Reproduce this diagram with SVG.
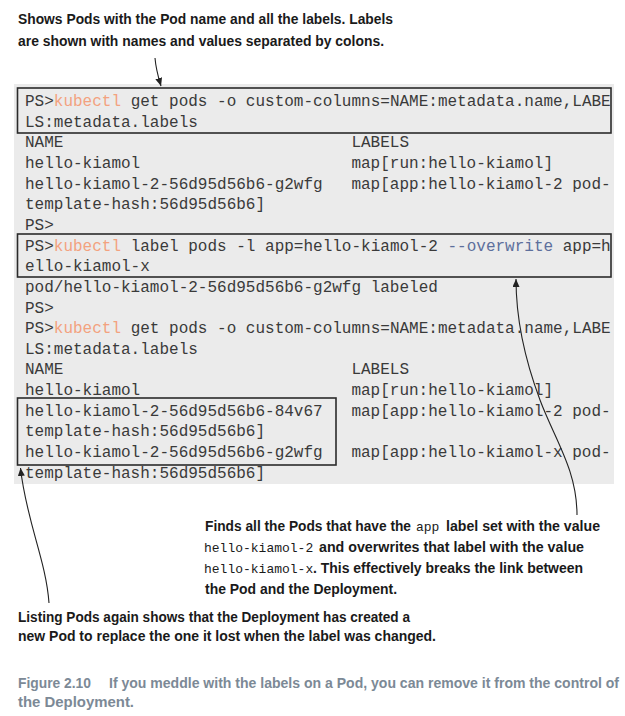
<svg xmlns="http://www.w3.org/2000/svg" width="625" height="716" viewBox="0 0 625 716">
<style>
.bg{fill:#ffffff}
.term{fill:#ebebeb}
.box{fill:none;stroke:#2b2b2b;stroke-width:1.6}
.mono{font-family:"Liberation Mono","DejaVu Sans Mono",monospace;font-size:16px;fill:#3a3a3a}
.kc{fill:#f3a27f}
.ow{fill:#5d6f9c}
.ann{font-family:"Liberation Sans","Arial",sans-serif;font-weight:bold;font-size:14px;fill:#1a1a1a}
.code{font-family:"Liberation Mono","Courier New",monospace;font-size:13px;fill:#1a1a1a}
.cap{font-family:"Liberation Sans","Arial",sans-serif;font-weight:bold;font-size:14px;fill:#7c8996}
.conn{fill:none;stroke:#222;stroke-width:1.1}
</style>
<defs>
<marker id="ah" markerWidth="8" markerHeight="7" refX="8" refY="3.5" orient="auto" markerUnits="userSpaceOnUse">
<path d="M0,0 L8,3.5 L0,7 z" fill="#222"/>
</marker>
</defs>
<rect class="bg" x="0" y="0" width="625" height="716"/>

<g id="annotation-top">
<text class="ann" x="18" y="24" textLength="375" lengthAdjust="spacingAndGlyphs">Shows Pods with the Pod name and all the labels. Labels</text>
<text class="ann" x="18" y="46" textLength="366" lengthAdjust="spacingAndGlyphs">are shown with names and values separated by colons.</text>
</g>

<g id="terminal">
<rect class="term" x="14" y="84" width="600" height="400"/>
<text class="mono" x="25" y="106">PS&gt;<tspan class="kc">kubectl</tspan> get pods -o custom-columns=NAME:metadata.name,LABE</text>
<text class="mono" x="25" y="126.65">LS:metadata.labels</text>
<text class="mono" x="25" y="147.3">NAME</text><text class="mono" x="351.4" y="147.3">LABELS</text>
<text class="mono" x="25" y="167.95">hello-kiamol</text><text class="mono" x="351.4" y="167.95">map[run:hello-kiamol]</text>
<text class="mono" x="25" y="188.6">hello-kiamol-2-56d95d56b6-g2wfg</text><text class="mono" x="351.4" y="188.6">map[app:hello-kiamol-2 pod-</text>
<text class="mono" x="25" y="209.25">template-hash:56d95d56b6]</text>
<text class="mono" x="25" y="229.9">PS&gt;</text>
<text class="mono" x="25" y="250.55">PS&gt;<tspan class="kc">kubectl</tspan> label pods -l app=hello-kiamol-2 <tspan class="ow">--overwrite</tspan> app=h</text>
<text class="mono" x="25" y="271.2">ello-kiamol-x</text>
<text class="mono" x="25" y="291.85">pod/hello-kiamol-2-56d95d56b6-g2wfg labeled</text>
<text class="mono" x="25" y="312.5">PS&gt;</text>
<text class="mono" x="25" y="333.15">PS&gt;<tspan class="kc">kubectl</tspan> get pods -o custom-columns=NAME:metadata.name,LABE</text>
<text class="mono" x="25" y="353.8">LS:metadata.labels</text>
<text class="mono" x="25" y="374.45">NAME</text><text class="mono" x="351.4" y="374.45">LABELS</text>
<text class="mono" x="25" y="395.1">hello-kiamol</text><text class="mono" x="351.4" y="395.1">map[run:hello-kiamol]</text>
<text class="mono" x="25" y="415.75">hello-kiamol-2-56d95d56b6-84v67</text><text class="mono" x="351.4" y="415.75">map[app:hello-kiamol-2 pod-</text>
<text class="mono" x="25" y="436.4">template-hash:56d95d56b6]</text>
<text class="mono" x="25" y="457.05">hello-kiamol-2-56d95d56b6-g2wfg</text><text class="mono" x="351.4" y="457.05">map[app:hello-kiamol-x pod-</text>
<text class="mono" x="25" y="477.7">template-hash:56d95d56b6]</text>
</g>

<g id="box-get-pods">
<rect class="box" x="17.5" y="88" width="593.5" height="45"/>
</g>
<g id="box-label-cmd">
<rect class="box" x="17.5" y="234" width="593.5" height="43"/>
</g>
<g id="box-new-pods">
<rect class="box" x="17.5" y="398" width="318.5" height="67"/>
</g>

<g id="annotation-label">
<text class="ann" x="205" y="531" textLength="206" lengthAdjust="spacingAndGlyphs">Finds all the Pods that have the</text>
<text class="code" x="416" y="531">app</text>
<text class="ann" x="446" y="531" textLength="154" lengthAdjust="spacingAndGlyphs">label set with the value</text>
<text class="code" x="204" y="552">hello-kiamol-2</text>
<text class="ann" x="319" y="552" textLength="265" lengthAdjust="spacingAndGlyphs">and overwrites that label with the value</text>
<text class="code" x="204" y="573">hello-kiamol-x</text>
<text class="ann" x="313" y="573" textLength="270" lengthAdjust="spacingAndGlyphs">. This effectively breaks the link between</text>
<text class="ann" x="205" y="594" textLength="192" lengthAdjust="spacingAndGlyphs">the Pod and the Deployment.</text>
</g>

<g id="annotation-listing">
<text class="ann" x="18" y="622" textLength="392" lengthAdjust="spacingAndGlyphs">Listing Pods again shows that the Deployment has created a</text>
<text class="ann" x="18" y="641" textLength="418" lengthAdjust="spacingAndGlyphs">new Pod to replace the one it lost when the label was changed.</text>
</g>

<g id="connectors">
<path class="conn" d="M155,58 C156,70 158,76 161,86" marker-end="url(#ah)"/>
<path class="conn" d="M577,515 C577,470 555,440 540,400 S516,320 516,279" marker-end="url(#ah)"/>
<path class="conn" d="M49,603 C46,560 26,520 20.5,468" marker-end="url(#ah)"/>
</g>

<g id="caption">
<text class="cap" x="18" y="688" textLength="73" lengthAdjust="spacingAndGlyphs">Figure 2.10</text>
<text class="cap" x="109" y="688" textLength="510" lengthAdjust="spacingAndGlyphs">If you meddle with the labels on a Pod, you can remove it from the control of</text>
<text class="cap" x="18" y="707" textLength="116" lengthAdjust="spacingAndGlyphs">the Deployment.</text>
</g>
</svg>
